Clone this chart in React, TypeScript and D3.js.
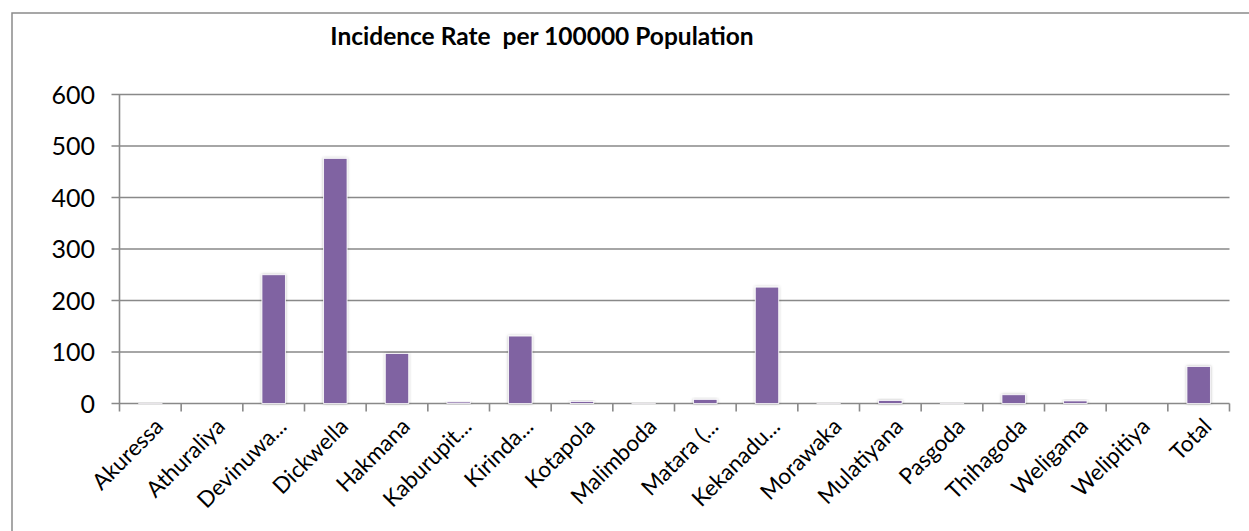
import React from "react";
import * as d3 from "d3";

const categories = ["Akuressa","Athuraliya","Devinuwa...","Dickwella","Hakmana","Kaburupit...","Kirinda...","Kotapola","Malimboda","Matara (...","Kekanadu...","Morawaka","Mulatiyana","Pasgoda","Thihagoda","Weligama","Welipitiya","Total"];
const values = [0.5,0,250,476,97,3,131,4,0.5,8,226,0.5,6,0.5,17,5,0,72];
const yTicks = [0,100,200,300,400,500,600];
const title = "Incidence Rate  per 100000 Population";

const W = 1249, H = 531;
const left = 119.5, right = 1229.5, top = 94.5, bottom = 403.5;
const font = "Lato, 'Open Sans', sans-serif";
const grid = "#898989";

export default function App() {
  const x = d3.scaleBand().domain(categories).range([left, right]).paddingInner(0.62).paddingOuter(0.31);
  const y = d3.scaleLinear().domain([0, 600]).range([bottom, top]);
  const step = x.step();
  const boundaries = d3.range(categories.length + 1).map(i => left + i * step);
  return (
    <svg width={W} height={H} style={{ position: "absolute", left: 0, top: 0 }}>
      <defs>
        <filter id="sh" x="-50%" y="-50%" width="200%" height="200%">
          <feDropShadow dx="0" dy="0" stdDeviation="1.8" floodColor="#000" floodOpacity="0.28" />
        </filter>
      </defs>
      <rect x={0} y={0} width={W} height={H} fill="#fff" />
      <rect x={12} y={13} width={1260} height={560} fill="#fff" stroke="#8a8a8a" strokeWidth={1.5} />
      <text x={542} y={45} textAnchor="middle" fontFamily={font} fontWeight="bold" fontSize={24.5} fill="#000" style={{ whiteSpace: "pre" }}>{title}</text>
      {yTicks.map(t => (
        <g key={t}>
          <line x1={left - 8} x2={right} y1={y(t)} y2={y(t)} stroke={grid} strokeWidth={1.6} />
          <text x={95} y={y(t) + 9} textAnchor="end" fontFamily={font} fontSize={25} fill="#000">{t}</text>
        </g>
      ))}
      <line x1={left} x2={left} y1={top} y2={bottom} stroke={grid} strokeWidth={1.6} />
      {boundaries.map((b, i) => (
        <line key={i} x1={b} x2={b} y1={bottom} y2={bottom + 8} stroke={grid} strokeWidth={1.6} />
      ))}
      {categories.map((c, i) => (
        <rect key={c} x={x(c)} y={y(values[i])} width={x.bandwidth()} height={bottom - y(values[i])}
          fill="#8064A2" stroke="#ffffff" strokeWidth={0.8} filter="url(#sh)" />
      ))}
      {categories.map(c => {
        const cx = (x(c) as number) + x.bandwidth() / 2 + 2;
        const cy = bottom + 12;
        return (
          <text key={c} x={cx} y={cy} transform={`rotate(-45 ${cx} ${cy})`} textAnchor="end"
            dominantBaseline="hanging" fontFamily={font} fontSize={22.5} fill="#000">{c}</text>
        );
      })}
    </svg>
  );
}
